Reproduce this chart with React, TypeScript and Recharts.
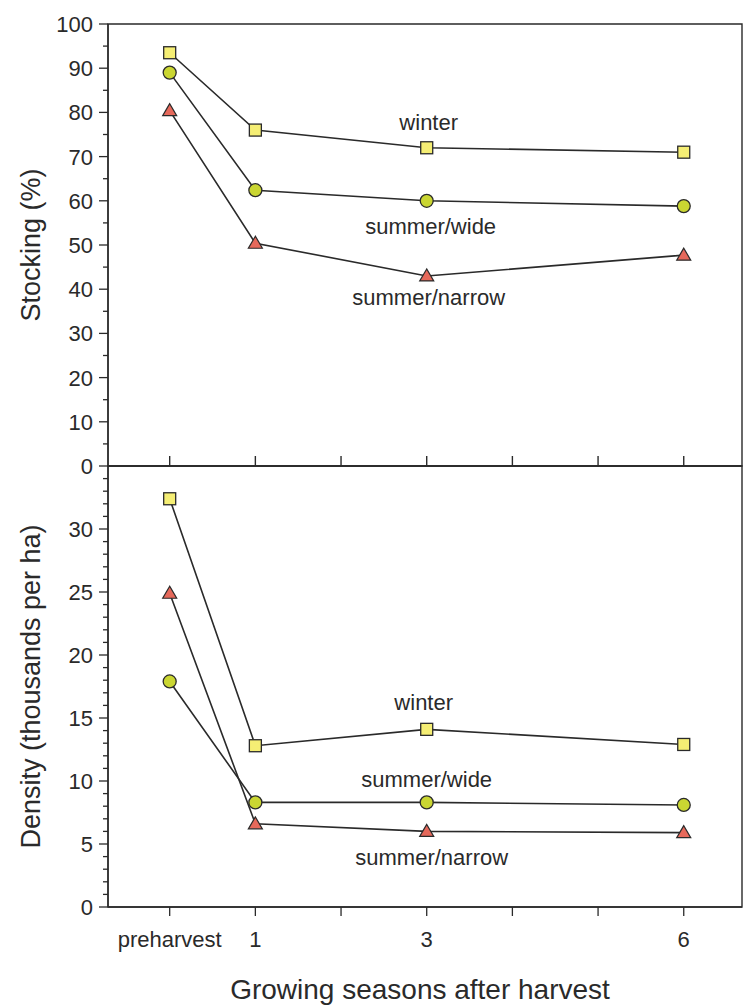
import { LineChart, Line, XAxis, YAxis, ReferenceArea } from "recharts";

// growing seasons after harvest (0 = preharvest)
const SEASONS = [0, 1, 3, 6];
const SEASON_TICKS = [0, 1, 2, 3, 4, 5, 6];
const SEASON_LABELS = ["preharvest", "1", "", "3", "", "", "6"];
const X_DOMAIN: [number, number] = [-0.72, 6.68];

// Stocking (%)
const STOCK_WINTER = [93.5, 76, 72, 71];
const STOCK_WIDE = [89, 62.4, 60, 58.8];
const STOCK_NARROW = [80.4, 50.4, 43, 47.7];
const STOCK_MAJOR = [0, 10, 20, 30, 40, 50, 60, 70, 80, 90, 100];
const STOCK_MINOR = [5, 15, 25, 35, 45, 55, 65, 75, 85, 95];

// Density (thousands per ha)
const DENS_WINTER = [32.4, 12.8, 14.1, 12.9];
const DENS_WIDE = [17.9, 8.3, 8.3, 8.1];
const DENS_NARROW = [24.9, 6.6, 6.0, 5.9];
const DENS_MAJOR = [0, 5, 10, 15, 20, 25, 30];
const DENS_MINOR = [1, 2, 3, 4, 6, 7, 8, 9, 11, 12, 13, 14, 16, 17, 18, 19, 21, 22, 23, 24, 26, 27, 28, 29, 31, 32, 33, 34];

const SERIES_NAMES = ["winter", "summer/wide", "summer/narrow"];

const INK = "#2a2a2a";
const FONT = '"Liberation Sans", Arial, Helvetica, sans-serif';

const stockData = SEASONS.map((x, i) => ({
  x,
  winter: STOCK_WINTER[i],
  wide: STOCK_WIDE[i],
  narrow: STOCK_NARROW[i],
}));

const densData = SEASONS.map((x, i) => ({
  x,
  winter: DENS_WINTER[i],
  wide: DENS_WIDE[i],
  narrow: DENS_NARROW[i],
}));

// series label drawn next to the point at season 3, offset in px
const LABEL_AT = 3;
const STOCK_LABEL_OFFSET = { winter: [2, -25], wide: [4, 26], narrow: [2, 22] };
const DENS_LABEL_OFFSET = { winter: [-3, -27], wide: [0, -23], narrow: [5, 26] };

type Kind = "square" | "circle" | "triangle";

const makeDot = (kind: Kind, name: string, off: number[]) => (props: any) => {
  const { cx, cy, payload, index } = props;
  let mark;
  if (kind === "square") {
    mark = <rect x={cx - 6} y={cy - 6} width={12} height={12} fill="#f5ee74" stroke={INK} strokeWidth={1.3} />;
  } else if (kind === "circle") {
    mark = <circle cx={cx} cy={cy} r={6.5} fill="#cad632" stroke={INK} strokeWidth={1.3} />;
  } else {
    mark = (
      <polygon
        points={`${cx},${cy - 7} ${cx - 7},${cy + 5} ${cx + 7},${cy + 5}`}
        fill="#e6695b"
        stroke={INK}
        strokeWidth={1.2}
      />
    );
  }
  return (
    <g key={`d-${name}-${index}`}>
      {mark}
      {payload && payload.x === LABEL_AT && (
        <text x={cx + off[0]} y={cy + off[1]} dominantBaseline="central" textAnchor="middle" fontSize={22} fill={INK}>
          {name}
        </text>
      )}
    </g>
  );
};

const yTick = (majors: number[]) => (props: any) => {
  const { x, y, payload } = props;
  const major = majors.includes(payload.value);
  return (
    <g>
      <line x1={x} y1={y} x2={x - (major ? 9 : 5)} y2={y} stroke={INK} strokeWidth={1.3} />
      {major && (
        <text x={x - 15} y={y} dy="0.36em" textAnchor="end" fontSize={22} fill={INK}>
          {payload.value}
        </text>
      )}
    </g>
  );
};

const xTickDown = (props: any) => {
  const { x, y, payload } = props;
  const label = SEASON_LABELS[SEASON_TICKS.indexOf(payload.value)];
  return (
    <g>
      <line x1={x} y1={y} x2={x} y2={y + 9} stroke={INK} strokeWidth={1.3} />
      {label && (
        <text x={x} y={y + 40} textAnchor="middle" fontSize={22} fill={INK}>
          {label}
        </text>
      )}
    </g>
  );
};

// ticks of the shared middle axis point up into the stocking panel
const xTickUp = (props: any) => {
  const { x, y } = props;
  return (
    <g>
      <line x1={x} y1={y} x2={x} y2={y - 10} stroke={INK} strokeWidth={1.4} />
    </g>
  );
};

function seriesLines(offsets: Record<string, number[]>) {
  const keys = ["winter", "wide", "narrow"];
  const kinds: Kind[] = ["square", "circle", "triangle"];
  return keys.map((k, i) => (
    <Line
      key={k}
      dataKey={k}
      type="linear"
      stroke={INK}
      strokeWidth={1.6}
      dot={makeDot(kinds[i], SERIES_NAMES[i], offsets[k])}
      activeDot={false}
      isAnimationActive={false}
    />
  ));
}

const frame = (yMax: number) => (
  <ReferenceArea
    x1={X_DOMAIN[0]}
    x2={X_DOMAIN[1]}
    y1={0}
    y2={yMax}
    fill="none"
    fillOpacity={0}
    stroke={INK}
    strokeWidth={1.4}
  />
);

export default function App() {
  return (
    <div style={{ position: "absolute", left: 0, top: 0, width: 744, height: 1007, background: "#fff", fontFamily: FONT }}>
      <div style={{ position: "absolute", left: 0, top: 0 }}>
        <LineChart width={744} height={480} data={stockData} margin={{ top: 24, right: 2, bottom: 0, left: 8 }}>
          <XAxis
            dataKey="x"
            type="number"
            domain={X_DOMAIN}
            allowDataOverflow
            ticks={SEASON_TICKS}
            interval={0}
            height={14}
            tickSize={0}
            tickMargin={0}
            tickLine={false}
            tick={xTickUp}
            axisLine={{ stroke: INK, strokeWidth: 1.4 }}
          />
          <YAxis
            type="number"
            domain={[0, 100]}
            ticks={[...STOCK_MAJOR, ...STOCK_MINOR].sort((a, b) => a - b)}
            interval={0}
            width={100}
            tickSize={0}
            tickMargin={0}
            tickLine={false}
            tick={yTick(STOCK_MAJOR)}
            axisLine={{ stroke: INK, strokeWidth: 1.4 }}
            label={{
              value: "Stocking (%)",
              angle: -90,
              position: "insideLeft",
              offset: 22,
              style: { textAnchor: "middle", fontSize: 27, fill: INK },
            }}
          />
          {frame(100)}
          {seriesLines(STOCK_LABEL_OFFSET)}
        </LineChart>
      </div>
      <div style={{ position: "absolute", left: 0, top: 440 }}>
        <LineChart width={744} height={567} data={densData} margin={{ top: 26, right: 2, bottom: 0, left: 8 }}>
          <XAxis
            dataKey="x"
            type="number"
            domain={X_DOMAIN}
            allowDataOverflow
            ticks={SEASON_TICKS}
            interval={0}
            height={100}
            tickSize={0}
            tickMargin={0}
            tickLine={false}
            tick={xTickDown}
            axisLine={{ stroke: INK, strokeWidth: 1.4 }}
            label={{
              value: "Growing seasons after harvest",
              position: "insideBottom",
              offset: 8,
              dx: -5,
              style: { fontSize: 28, fill: INK },
            }}
          />
          <YAxis
            type="number"
            domain={[0, 35]}
            allowDataOverflow
            ticks={[...DENS_MAJOR, ...DENS_MINOR].sort((a, b) => a - b)}
            interval={0}
            width={100}
            tickSize={0}
            tickMargin={0}
            tickLine={false}
            tick={yTick(DENS_MAJOR)}
            axisLine={{ stroke: INK, strokeWidth: 1.4 }}
            label={{
              value: "Density (thousands per ha)",
              angle: -90,
              position: "insideLeft",
              offset: 22,
              style: { textAnchor: "middle", fontSize: 27, fill: INK },
            }}
          />
          {frame(35)}
          {seriesLines(DENS_LABEL_OFFSET)}
        </LineChart>
      </div>
    </div>
  );
}
